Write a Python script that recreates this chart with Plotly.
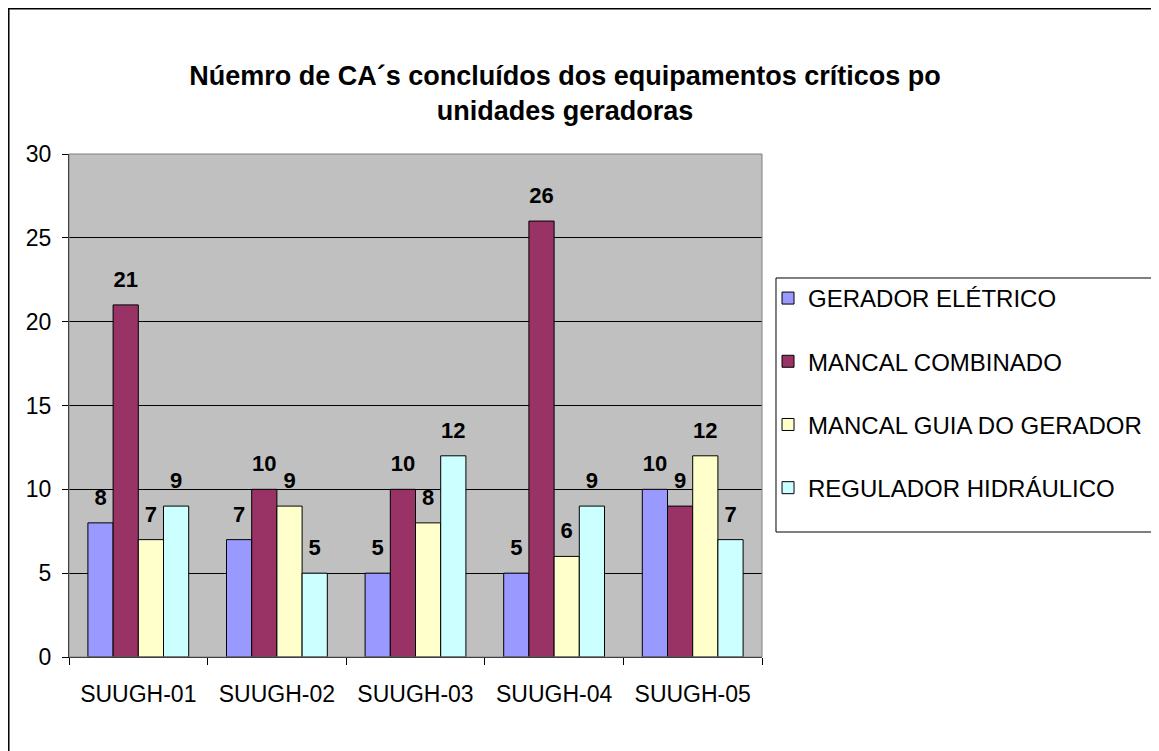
from plotly import graph_objects as go

units = ["SUUGH-01", "SUUGH-02", "SUUGH-03", "SUUGH-04", "SUUGH-05"]
gerador_eletrico = [8, 7, 5, 5, 10]
mancal_combinado = [21, 10, 10, 26, 9]
mancal_guia = [7, 9, 8, 6, 12]
regulador_hidraulico = [9, 5, 12, 9, 7]

series = [
    ("GERADOR ELÉTRICO", gerador_eletrico, "#9999FF"),
    ("MANCAL COMBINADO", mancal_combinado, "#993366"),
    ("MANCAL GUIA DO GERADOR", mancal_guia, "#FFFFCC"),
    ("REGULADOR HIDRÁULICO", regulador_hidraulico, "#CCFFFF"),
]

FONT = "Liberation Sans, Arial, sans-serif"

fig = go.Figure()
for name, values, color in series:
    fig.add_trace(
        go.Bar(
            x=units,
            y=values,
            name=name,
            legendgroup=name,
            marker={"color": color, "line": {"color": "#000000", "width": 1}},
            text=values,
            # small blank second line lifts the label off the bar like Excel does
            texttemplate="<span style='font-size:22px'><b>%{text}</b></span><br><span> </span>",
            textposition="outside",
            constraintext="none",
            cliponaxis=False,
            textfont={"family": FONT, "size": 10, "color": "#000000"},
        )
    )

fig.update_layout(
    width=1151,
    height=743,
    margin=dict(l=61, r=397, t=146, b=94, pad=0),
    paper_bgcolor="#FFFFFF",
    plot_bgcolor="#C0C0C0",
    barmode="group",
    bargap=0.2727,
    bargroupgap=0,
    font={"family": FONT, "size": 23, "color": "#000000"},
    title={
        "text": "<b>Núemro de CA´s concluídos dos equipamentos críticos po<br>unidades geradoras</b>",
        "font": {"family": FONT, "size": 27, "color": "#000000"},
        "x": 0.4839,
        "xanchor": "center",
        "xref": "container",
        "y": 0.896,
        "yanchor": "top",
    },
    xaxis={
        "showgrid": False,
        "showline": True,
        "linecolor": "#000000",
        "linewidth": 1,
        "ticks": "outside",
        "tickson": "boundaries",
        "ticklen": 7,
        "tickcolor": "#000000",
        "tickfont": {"family": FONT, "size": 23},
        "ticklabelstandoff": 16,
    },
    yaxis={
        "range": [0, 30],
        "dtick": 5,
        "showgrid": True,
        "gridcolor": "#000000",
        "gridwidth": 1,
        "showline": True,
        "linecolor": "#000000",
        "linewidth": 1,
        "ticks": "outside",
        "ticklen": 6,
        "tickcolor": "#000000",
        "tickfont": {"family": FONT, "size": 23},
        "ticklabelstandoff": 6,
        "zeroline": False,
    },
    legend={
        "x": 1.0087,
        "xanchor": "left",
        "y": 0.7575,
        "yanchor": "top",
        "bgcolor": "rgba(0,0,0,0)",
        "borderwidth": 0,
        "font": {"family": FONT, "size": 24},
        "traceorder": "grouped",
        "tracegroupgap": 29,
    },
    shapes=[
        # gray frame of the plot area (top and right)
        dict(
            type="rect",
            xref="paper",
            yref="paper",
            x0=0,
            x1=1,
            y0=0,
            y1=1,
            line={"color": "#808080", "width": 1},
        ),
        # legend box
        dict(
            type="rect",
            xref="paper",
            yref="paper",
            x0=1.0202,
            x1=2.0,
            y0=0.2485,
            y1=0.7535,
            line={"color": "#000000", "width": 1},
            layer="below",
        ),
        # outer chart border
        dict(
            type="rect",
            xref="paper",
            yref="paper",
            x0=-0.0869,
            x1=2.0,
            y0=-1.0,
            y1=1.2888,
            line={"color": "#000000", "width": 1.5},
        ),
    ],
)

fig.write_html("out.html")
